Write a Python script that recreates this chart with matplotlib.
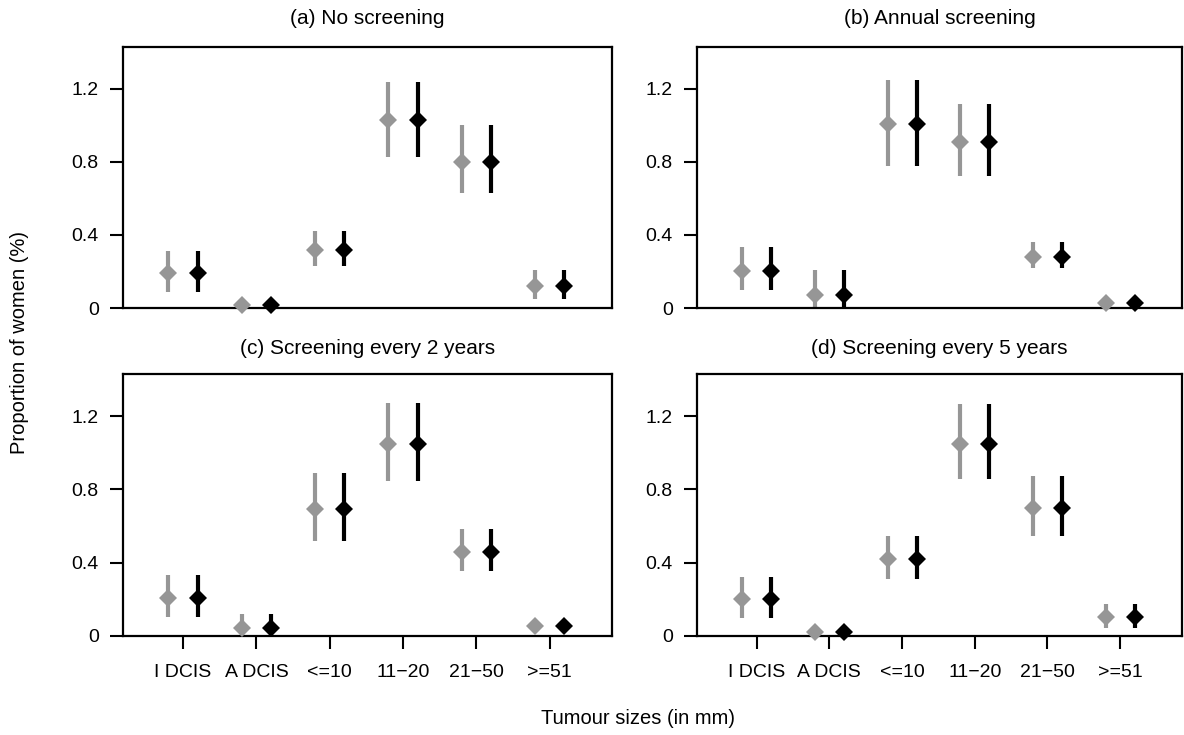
import numpy as np
import matplotlib.pyplot as plt

plt.rcParams['font.family'] = ['Liberation Sans', 'DejaVu Sans']

categories = ["I DCIS", "A DCIS", "<=10", "11\u221220", "21\u221250", ">=51"]
titles = ["(a) No screening", "(b) Annual screening",
          "(c) Screening every 2 years", "(d) Screening every 5 years"]

# point estimates and interval bounds (%), same for both series
est_a = [0.19, 0.015, 0.32, 1.03, 0.80, 0.12]
low_a = [0.09, 0.005, 0.23, 0.83, 0.63, 0.05]
high_a = [0.31, 0.03, 0.42, 1.24, 1.00, 0.21]

est_b = [0.205, 0.07, 1.01, 0.91, 0.28, 0.03]
low_b = [0.10, 0.0, 0.78, 0.725, 0.217, 0.018]
high_b = [0.333, 0.208, 1.249, 1.12, 0.36, 0.045]

est_c = [0.206, 0.044, 0.693, 1.047, 0.46, 0.055]
low_c = [0.102, 0.0, 0.52, 0.847, 0.356, 0.045]
high_c = [0.333, 0.12, 0.891, 1.269, 0.584, 0.07]

est_d = [0.20, 0.024, 0.42, 1.047, 0.70, 0.105]
low_d = [0.10, 0.0, 0.311, 0.855, 0.547, 0.042]
high_d = [0.32, 0.05, 0.547, 1.266, 0.873, 0.175]

panels = [(est_a, low_a, high_a), (est_b, low_b, high_b),
          (est_c, low_c, high_c), (est_d, low_d, high_d)]

series_colors = ["#969696", "black"]
offsets = [-0.2, 0.2]

W, H = 1184, 735
fig = plt.figure(figsize=(W / 100, H / 100), dpi=100)

# box positions in pixels: left, right, top, bottom
boxes = [(123, 612, 47, 308), (697, 1182, 47, 308),
         (123, 612, 374, 636), (697, 1182, 374, 636)]
title_y = [18, 18, 349, 349]

x = np.arange(1, len(categories) + 1)

for i, (est, low, high) in enumerate(panels):
    l, r, t, b = boxes[i]
    ax = fig.add_axes([l / W, 1 - b / H, (r - l) / W, (b - t) / H])
    est = np.array(est)
    low = np.array(low)
    high = np.array(high)
    for col, off in zip(series_colors, offsets):
        ax.vlines(x + off, low, high, color=col, lw=3, zorder=2)
        ax.plot(x + off, est, 'D', color=col, ms=9, mew=0, zorder=3,
                clip_on=False)
    ax.set_xlim(0.18, 6.85)
    ax.set_ylim(0, 1.43)
    ax.set_yticks([0, 0.4, 0.8, 1.2])
    ax.set_yticklabels(["0", "0.4", "0.8", "1.2"])
    ax.tick_params(axis='y', length=9.5, width=1.5, pad=8, labelsize=14)
    if i >= 2:
        ax.set_xticks(x)
        ax.set_xticklabels(categories)
        ax.tick_params(axis='x', length=9.5, width=1.5, pad=11, labelsize=14)
    else:
        ax.set_xticks([])
    for sp in ax.spines.values():
        sp.set_linewidth(1.6)
    fig.text(((l + r) / 2) / W, 1 - title_y[i] / H, titles[i],
             ha='center', va='center', fontsize=15)

fig.text(20 / W, 1 - 343 / H, "Proportion of women (%)", rotation=90,
         ha='center', va='center', fontsize=14.5)
fig.text(638 / W, 1 - 718 / H, "Tumour sizes (in mm)",
         ha='center', va='center', fontsize=14.5)

fig.savefig("out.png", dpi=100)
